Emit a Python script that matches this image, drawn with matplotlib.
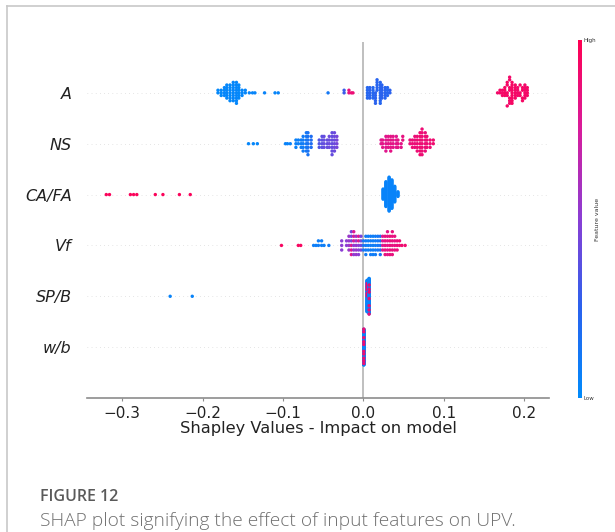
import matplotlib
matplotlib.use("Agg")
import matplotlib.pyplot as plt
import numpy as np
from matplotlib.colors import LinearSegmentedColormap
from matplotlib.lines import Line2D

# features, top row first
features = ["A", "NS", "CA/FA", "Vf", "SP/B", "w/b"]

# for every row: shap value, how many samples sit at it, normalised feature value (0 low, 1 high)
a_x = [-0.181, -0.177, -0.173, -0.170, -0.166, -0.162, -0.158, -0.155, -0.151, -0.147,
       -0.142, -0.138, -0.135, -0.123, -0.110, -0.106, -0.044, -0.024, -0.018, -0.015, -0.013,
       0.005, 0.008, 0.012, 0.015, 0.017, 0.021, 0.023, 0.027, 0.030, 0.033,
       0.167, 0.170, 0.173, 0.176, 0.179, 0.182, 0.185, 0.189, 0.192, 0.195, 0.198, 0.201, 0.204]
a_n = [2, 3, 4, 6, 7, 8, 9, 6, 3, 2,
       1, 1, 1, 1, 1, 1, 1, 2, 2, 1, 1,
       5, 5, 5, 5, 5, 9, 6, 5, 4, 2,
       1, 2, 3, 4, 5, 7, 9, 6, 4, 3, 4, 6, 4]
a_f = [0.02, 0.02, 0.03, 0.03, 0.02, 0.03, 0.03, 0.02, 0.03, 0.03,
       0.04, 0.04, 0.04, 0.05, 0.04, 0.04, 0.12, 0.30, 0.85, 0.88, 0.88,
       0.22, 0.24, 0.22, 0.25, 0.24, 0.23, 0.25, 0.24, 0.22, 0.25,
       0.92, 0.93, 0.92, 0.94, 0.93, 0.92, 0.94, 0.93, 0.92, 0.93, 0.94, 0.92, 0.93]

ns_x = [-0.143, -0.137, -0.132,
        -0.097, -0.0945, -0.091,
        -0.084, -0.081, -0.0775, -0.075, -0.071, -0.069, -0.065,
        -0.055, -0.0515, -0.049, -0.045, -0.0425, -0.039, -0.036, -0.033,
        0.022, 0.024, 0.028, 0.031, 0.034, 0.037, 0.041, 0.043, 0.047, 0.049,
        0.058, 0.061, 0.064, 0.067, 0.0705, 0.073, 0.077, 0.079, 0.083, 0.087]
ns_n = [1, 1, 1,
        1, 1, 1,
        3, 2, 3, 5, 6, 7, 4,
        3, 4, 4, 3, 4, 7, 6, 4,
        2, 3, 5, 4, 5, 4, 4, 3, 2, 2,
        2, 3, 4, 5, 7, 8, 6, 4, 3, 2]
ns_f = [0.03, 0.03, 0.03,
        0.05, 0.05, 0.05,
        0.06, 0.07, 0.08, 0.10, 0.12, 0.15, 0.18,
        0.35, 0.38, 0.40, 0.40, 0.42, 0.40, 0.42, 0.45,
        0.80, 0.82, 0.80, 0.82, 0.83, 0.82, 0.80, 0.83, 0.82, 0.84,
        0.86, 0.88, 0.87, 0.88, 0.90, 0.88, 0.87, 0.89, 0.88, 0.90]

ca_x = [-0.320, -0.316, -0.290, -0.286, -0.282, -0.259, -0.2495, -0.229, -0.2155,
        0.0245, 0.028, 0.032, 0.0355, 0.039, 0.043]
ca_n = [1, 1, 1, 1, 1, 1, 1, 1, 1,
        12, 28, 38, 32, 18, 6]
ca_f = [0.97, 0.97, 0.97, 0.97, 0.97, 0.97, 0.97, 0.97, 0.97,
        0.05, 0.05, 0.05, 0.05, 0.05, 0.05]

vf_x = [-0.102, -0.081, -0.078,
        -0.062, -0.059, -0.056, -0.052, -0.049, -0.043, -0.027,
        -0.021, -0.018, -0.015, -0.015, -0.012, -0.012, -0.009, -0.006, -0.006, -0.003,
        0.000, 0.003, 0.006, 0.009, 0.012, 0.015, 0.018, 0.021,
        0.024, 0.027, 0.030, 0.033, 0.036, 0.039, 0.042, 0.045, 0.048, 0.052]
vf_n = [1, 1, 1,
        1, 1, 2, 2, 1, 1, 3,
        2, 4, 3, 3, 3, 3, 5, 3, 2, 4,
        3, 5, 4, 5, 5, 5, 4, 5,
        4, 5, 6, 5, 6, 4, 3, 2, 1, 1]
vf_f = [0.95, 0.95, 0.95,
        0.08, 0.08, 0.08, 0.08, 0.08, 0.10, 0.50,
        0.50, 0.55, 0.45, 0.80, 0.50, 0.78, 0.55, 0.50, 0.80, 0.45,
        0.15, 0.10, 0.08, 0.10, 0.08, 0.10, 0.12, 0.15,
        0.80, 0.85, 0.82, 0.86, 0.85, 0.84, 0.86, 0.88, 0.90, 0.90]

sp_x = [-0.2405, -0.213, 0.0046, 0.0046, 0.0071, 0.0071]
sp_n = [1, 1, 62, 6, 70, 7]
sp_f = [0.05, 0.05, 0.05, 0.88, 0.05, 0.88]

wb_x = [0.0005, 0.0005]
wb_n = [138, 10]
wb_f = [0.05, 0.88]

rows = [(a_x, a_n, a_f), (ns_x, ns_n, ns_f), (ca_x, ca_n, ca_f),
        (vf_x, vf_n, vf_f), (sp_x, sp_n, sp_f), (wb_x, wb_n, wb_f)]

cmap = LinearSegmentedColormap.from_list(
    "red_blue", ["#008bfb", "#2a62ee", "#8a3ed4", "#d81c9c", "#ff0052"])


def swarm(vals, nbins=100, row_height=0.4):
    # same stacking idea as the shap beeswarm
    n = len(vals)
    quant = np.round(nbins * (vals - vals.min()) / (vals.max() - vals.min() + 1e-8))
    tie = (np.arange(n) * 0.6180339887) % 1.0
    order = np.lexsort((tie, quant))
    ys = np.zeros(n)
    layer = 0
    last = -1
    for i in order:
        if quant[i] != last:
            layer = 0
        ys[i] = np.ceil(layer / 2) * ((layer % 2) * 2 - 1)
        layer += 1
        last = quant[i]
    ys *= 0.9 * (row_height / np.max(ys + 1))
    return ys


fig = plt.figure(figsize=(6.15, 5.32), dpi=100)
ax = fig.add_axes([87 / 615, 1 - 398 / 532, 462 / 615, 356 / 532])

nf = len(features)
for i, (xs, ns, fs) in enumerate(rows):
    pos = nf - 1 - i
    vals = np.repeat(np.array(xs, dtype=float), ns)
    fv = np.repeat(np.array(fs, dtype=float), ns)
    off = swarm(vals)
    ax.axhline(pos, color="#cccccc", lw=0.5, dashes=(1, 5), zorder=-1)
    ax.scatter(vals, pos + off, c=cmap(fv), s=6, linewidths=0, zorder=3)

ax.axvline(0, color="#b4b4b4", lw=1.2, zorder=-1)
ax.set_xlim(-0.344, 0.231)
ax.set_ylim(-1, nf)
for s in ["top", "right", "left"]:
    ax.spines[s].set_visible(False)
ax.spines["bottom"].set_color("#8c8c8c")
ax.spines["bottom"].set_linewidth(1.2)
ax.set_yticks(range(nf))
ax.set_yticklabels(features[::-1], fontsize=11.5, style="italic", color="#222222")
ax.tick_params(axis="y", length=0, pad=11)
ax.set_xticks([-0.3, -0.2, -0.1, 0.0, 0.1, 0.2])
ax.tick_params(axis="x", labelsize=11, color="#8c8c8c", length=2, labelcolor="#222222")
ax.set_xlabel("Shapley Values - Impact on model", fontsize=11.7, labelpad=0.5, color="#222222")

# colour bar
cax = fig.add_axes([577.5 / 615, 1 - 398 / 532, 4 / 615, 358 / 532])
sm = plt.cm.ScalarMappable(cmap=cmap, norm=plt.Normalize(0, 1))
cb = fig.colorbar(sm, cax=cax, ticks=[0, 1])
cb.set_ticklabels(["Low", "High"])
cb.ax.tick_params(labelsize=4, length=0, pad=1.5, labelcolor="#333333")
cb.outline.set_visible(False)
cb.set_label("Feature value", size=4.5, labelpad=-1, color="#333333")

# page frame and caption
fig.add_artist(Line2D([7 / 615, 1], [1 - 6 / 532, 1 - 6 / 532], color="#c8c8c8", lw=1.2))
fig.add_artist(Line2D([7 / 615, 7 / 615], [0, 1 - 6 / 532], color="#c8c8c8", lw=1.2))
fig.text(40 / 615, 1 - 497 / 532, "FIGURE 12", fontsize=11.5, family="Open Sans",
         weight="semibold", color="#5a5a5a", va="center")
fig.text(40 / 615, 1 - 521 / 532, "SHAP plot signifying the effect of input features on UPV.",
         fontsize=13.8, family="Open Sans", weight="light", color="#707070", va="center")

fig.savefig("out.png", dpi=100)
